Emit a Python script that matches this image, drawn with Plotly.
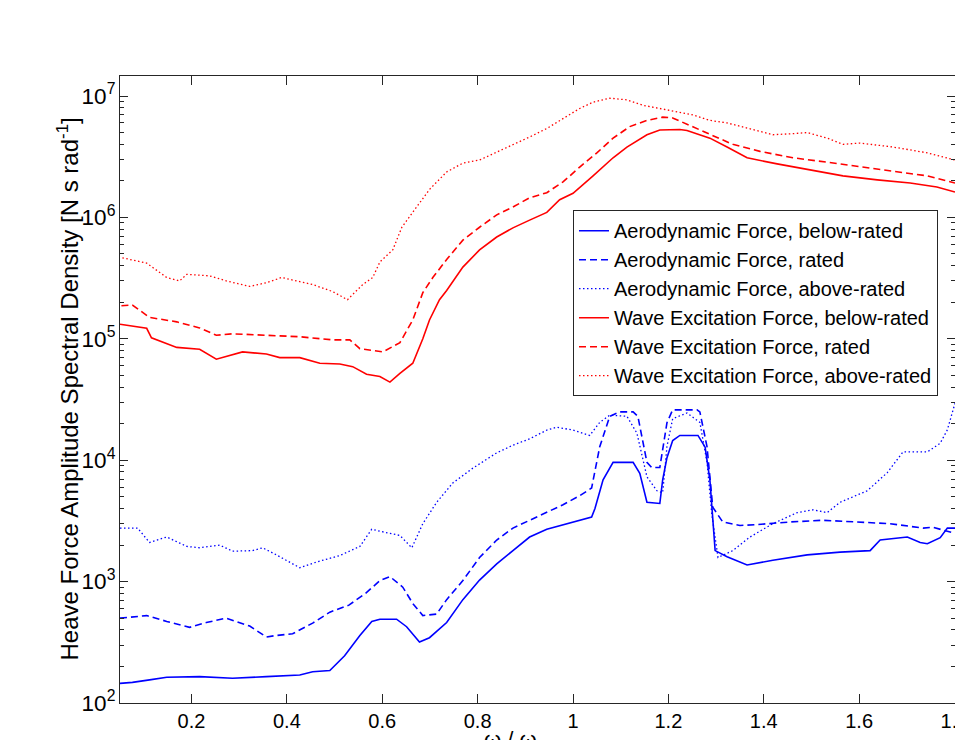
import plotly.graph_objects as go

# ---------------- data ----------------
aero_below_x = [0.05, 0.076, 0.112, 0.148, 0.217, 0.286, 0.357, 0.427, 0.454, 0.490, 0.521, 0.553, 0.578, 0.595,
                0.630, 0.651, 0.678, 0.699, 0.735, 0.769, 0.804, 0.840, 0.874, 0.909, 0.945, 0.979, 1.039, 1.046,
                1.063, 1.084, 1.126, 1.140, 1.155, 1.182, 1.188, 1.197, 1.209, 1.224, 1.262, 1.277, 1.287, 1.298,
                1.323, 1.365, 1.419, 1.491, 1.560, 1.623, 1.644, 1.701, 1.728, 1.743, 1.770, 1.785, 1.801]
aero_below_y = [145, 148, 155, 163, 165, 160, 165, 170, 181, 185, 245, 360, 470, 490,
                490, 425, 318, 345, 460, 710, 1030, 1400, 1800, 2330, 2700, 2950, 3400, 4000,
                6900, 9600, 9600, 7800, 4500, 4400, 6900, 10500, 14500, 16000, 16000, 12800, 6900, 1800,
                1600, 1370, 1500, 1660, 1750, 1800, 2200, 2330, 2100, 2050, 2300, 2760, 2760]

aero_rated_x = [0.05, 0.106, 0.148, 0.196, 0.231, 0.273, 0.322, 0.357, 0.378, 0.412, 0.454, 0.490, 0.530, 0.565,
                0.595, 0.616, 0.643, 0.664, 0.685, 0.714, 0.735, 0.769, 0.804, 0.840, 0.874, 0.909, 0.945, 0.979,
                1.014, 1.039, 1.056, 1.077, 1.098, 1.126, 1.136, 1.155, 1.165, 1.182, 1.197, 1.209, 1.260, 1.266,
                1.281, 1.293, 1.314, 1.350, 1.386, 1.455, 1.524, 1.596, 1.665, 1.734, 1.755, 1.801]
aero_rated_y = [500, 525, 470, 420, 460, 500, 430, 350, 360, 372, 455, 560, 640, 800,
                1020, 1100, 900, 660, 525, 540, 710, 1020, 1580, 2200, 2760, 3200, 3700, 4300,
                5100, 5900, 12900, 23000, 25000, 25000, 23000, 9600, 8700, 8700, 20400, 26000, 26000, 25000,
                12900, 4100, 3100, 2900, 2950, 3100, 3200, 3100, 3000, 2760, 2800, 2500]

aero_above_x = [0.05, 0.087, 0.112, 0.148, 0.190, 0.217, 0.259, 0.286, 0.328, 0.349, 0.378, 0.427, 0.462, 0.511,
                0.553, 0.578, 0.595, 0.637, 0.662, 0.685, 0.714, 0.748, 0.790, 0.840, 0.874, 0.909, 0.945, 0.966,
                1.000, 1.035, 1.056, 1.077, 1.113, 1.134, 1.155, 1.176, 1.188, 1.193, 1.197, 1.209, 1.239, 1.266,
                1.281, 1.291, 1.304, 1.335, 1.371, 1.419, 1.470, 1.503, 1.533, 1.560, 1.617, 1.659, 1.692, 1.743,
                1.770, 1.785, 1.801]
aero_above_y = [2760, 2760, 2100, 2330, 1950, 1900, 2000, 1780, 1800, 1900, 1660, 1300, 1450, 1640,
                1950, 2700, 2600, 2400, 1900, 3000, 4500, 6500, 8600, 11500, 13300, 15000, 17700, 18700,
                17700, 16000, 20500, 23500, 23000, 16700, 7300, 5600, 5400, 9600, 13000, 22000, 24500, 20500,
                9600, 3600, 1580, 1800, 2330, 3000, 3700, 3900, 3700, 4500, 5600, 7900, 11700, 11700,
                13800, 17800, 29500]

wave_below_x = [0.05, 0.076, 0.106, 0.116, 0.160, 0.169, 0.217, 0.252, 0.307, 0.357, 0.385, 0.427, 0.469, 0.511,
                0.538, 0.567, 0.595, 0.616, 0.637, 0.664, 0.685, 0.699, 0.720, 0.735, 0.769, 0.804, 0.840, 0.874,
                0.909, 0.945, 0.972, 1.000, 1.042, 1.084, 1.113, 1.155, 1.182, 1.224, 1.239, 1.287, 1.323, 1.365,
                1.428, 1.497, 1.566, 1.638, 1.707, 1.763, 1.801]
wave_below_y = [1.32e5, 1.28e5, 1.22e5, 1.02e5, 8.8e4, 8.5e4, 8.2e4, 6.8e4, 7.8e4, 7.5e4, 7.0e4, 7.0e4, 6.3e4, 6.2e4,
                5.9e4, 5.1e4, 4.9e4, 4.4e4, 5.2e4, 6.3e4, 1.0e5, 1.43e5, 2.1e5, 2.5e5, 3.9e5, 5.4e5, 6.9e5, 8.2e5,
                9.5e5, 1.1e6, 1.4e6, 1.58e6, 2.2e6, 3.1e6, 3.8e6, 4.8e6, 5.25e6, 5.3e6, 5.2e6, 4.5e6, 3.8e6, 3.1e6,
                2.76e6, 2.45e6, 2.2e6, 2.04e6, 1.92e6, 1.78e6, 1.62e6]

wave_rated_x = [0.053, 0.076, 0.112, 0.169, 0.217, 0.252, 0.286, 0.357, 0.427, 0.496, 0.532, 0.553, 0.601, 0.637,
                0.664, 0.685, 0.706, 0.735, 0.769, 0.804, 0.840, 0.874, 0.909, 0.945, 0.979, 1.014, 1.050, 1.084,
                1.119, 1.155, 1.188, 1.209, 1.251, 1.287, 1.335, 1.392, 1.461, 1.533, 1.602, 1.671, 1.743, 1.801]
wave_rated_y = [1.87e5, 1.9e5, 1.5e5, 1.38e5, 1.23e5, 1.07e5, 1.1e5, 1.07e5, 1.04e5, 9.8e4, 9.8e4, 8.3e4, 7.8e4, 9.3e4,
                1.43e5, 2.4e5, 3.2e5, 4.5e5, 6.5e5, 8.3e5, 1.05e6, 1.22e6, 1.45e6, 1.6e6, 1.96e6, 2.6e6, 3.4e6, 4.5e6,
                5.6e6, 6.3e6, 6.7e6, 6.6e6, 5.6e6, 4.8e6, 4.0e6, 3.5e6, 3.1e6, 2.85e6, 2.6e6, 2.4e6, 2.2e6, 1.92e6]

wave_above_x = [0.055, 0.106, 0.148, 0.175, 0.190, 0.238, 0.273, 0.322, 0.357, 0.389, 0.420, 0.454, 0.496, 0.527,
                0.559, 0.580, 0.595, 0.622, 0.641, 0.664, 0.699, 0.735, 0.769, 0.804, 0.840, 0.874, 0.909, 0.945,
                0.972, 1.014, 1.042, 1.077, 1.113, 1.146, 1.182, 1.218, 1.251, 1.287, 1.323, 1.365, 1.419, 1.461,
                1.491, 1.533, 1.566, 1.602, 1.671, 1.707, 1.743, 1.801]
wave_above_y = [4.65e5, 4.2e5, 3.2e5, 3.0e5, 3.4e5, 3.3e5, 3.0e5, 2.7e5, 2.9e5, 3.2e5, 3.0e5, 2.8e5, 2.45e5, 2.1e5,
                2.8e5, 3.2e5, 4.3e5, 5.4e5, 8.3e5, 1.1e6, 1.7e6, 2.37e6, 2.8e6, 2.97e6, 3.45e6, 3.95e6, 4.6e6, 5.4e6,
                6.3e6, 7.9e6, 8.9e6, 9.6e6, 9.3e6, 8.4e6, 7.9e6, 7.4e6, 7.0e6, 6.3e6, 6.0e6, 5.45e6, 4.8e6, 4.9e6,
                5.0e6, 4.5e6, 4.0e6, 4.1e6, 3.8e6, 3.6e6, 3.4e6, 2.97e6]

series_names = ["Aerodynamic Force, below-rated", "Aerodynamic Force, rated", "Aerodynamic Force, above-rated",
                "Wave Excitation Force, below-rated", "Wave Excitation Force, rated",
                "Wave Excitation Force, above-rated"]

x_tick_vals = [0.2, 0.4, 0.6, 0.8, 1.0, 1.2, 1.4, 1.6, 1.8]
x_tick_text = ["0.2", "0.4", "0.6", "0.8", "1", "1.2", "1.4", "1.6", "1.8"]

x_label = "ω / ω<sub>p</sub>"
y_label = "Heave Force Amplitude Spectral Density [N s rad<sup>-1</sup>]"

# ---------------- figure ----------------
FONT = "Liberation Sans, Arial, sans-serif"
BLUE = "#0000FF"
RED = "#FF0000"
DASH = "7px,4px"
DOT = "1.5px,2.5px"

series = [
    (aero_below_x, aero_below_y, BLUE, "solid", 1.6),
    (aero_rated_x, aero_rated_y, BLUE, DASH, 1.6),
    (aero_above_x, aero_above_y, BLUE, DOT, 1.3),
    (wave_below_x, wave_below_y, RED, "solid", 1.6),
    (wave_rated_x, wave_rated_y, RED, DASH, 1.6),
    (wave_above_x, wave_above_y, RED, DOT, 1.3),
]

fig = go.Figure()
for (xs, ys, col, dash, w), name in zip(series, series_names):
    fig.add_trace(go.Scatter(x=xs, y=ys, mode="lines", name=name,
                             line=dict(color=col, dash=dash, width=w)))

AX = "#262626"
fig.update_layout(
    width=955, height=740,
    margin=dict(l=120, r=0, t=76, b=37, autoexpand=False),
    paper_bgcolor="white", plot_bgcolor="white",
    font=dict(family=FONT, size=20, color="black"),
    showlegend=True,
    legend=dict(x=0.5425, y=0.786, xanchor="left", yanchor="top",
                bgcolor="white", bordercolor=AX, borderwidth=1,
                font=dict(family=FONT, size=20, color="black"),
                tracegroupgap=0, itemwidth=30),
    xaxis=dict(range=[0.05, 1.801], tickvals=x_tick_vals, ticktext=x_tick_text,
               ticks="inside", ticklen=9, tickcolor=AX, tickwidth=1,
               showline=True, linecolor=AX, linewidth=1, mirror="ticks",
               showgrid=False, zeroline=False, automargin=False,
               ticklabeloverflow="allow",
               tickfont=dict(family=FONT, size=20, color="black")),
    yaxis=dict(type="log", range=[2, 7.165], dtick=1, exponentformat="power",
               ticks="inside", ticklen=8, tickcolor=AX, tickwidth=1,
               showline=True, linecolor=AX, linewidth=1, mirror="ticks",
               showgrid=False, zeroline=False, automargin=False,
               minor=dict(ticks="inside", ticklen=4, tickcolor=AX, showgrid=False),
               tickfont=dict(family=FONT, size=18, color="black")),
    annotations=[
        dict(text=y_label, textangle=-90, xref="paper", yref="paper", x=(67 - 120) / 835, y=0.5,
             xanchor="center", yanchor="middle", showarrow=False,
             font=dict(family=FONT, size=24, color="black")),
        dict(text=x_label, xref="paper", yref="paper", x=(482 - 120) / 835, y=-0.035,
             xanchor="left", yanchor="top", showarrow=False,
             font=dict(family=FONT, size=22, color="black")),
    ],
)

fig.write_html("out.html", config={"displayModeBar": False},
               post_script="document.body.style.margin='0';document.body.style.overflow='hidden';")
